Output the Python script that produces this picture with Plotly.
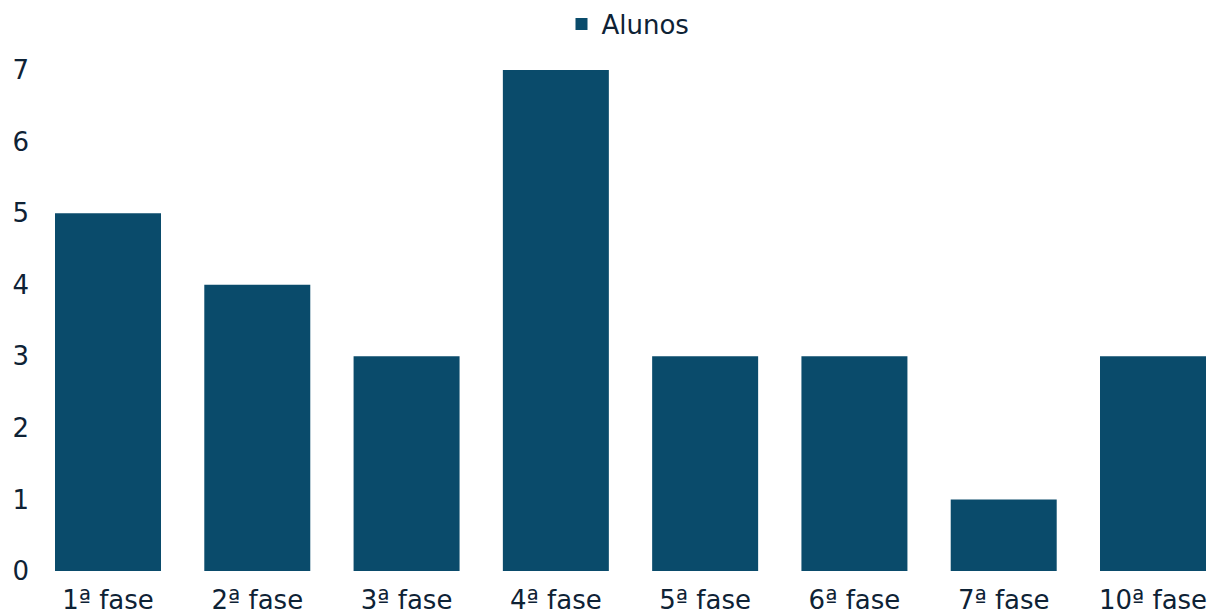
import plotly.graph_objects as go

categories = ["1ª fase", "2ª fase", "3ª fase", "4ª fase", "5ª fase", "6ª fase", "7ª fase", "10ª fase"]
alunos = [5, 4, 3, 7, 3, 3, 1, 3]
y_ticks = [0, 1, 2, 3, 4, 5, 6, 7]

text_color = "#0e2235"
bar_color = "#0a4b6b"
font_family = "'DejaVu Sans', sans-serif"

fig = go.Figure(
    go.Bar(x=list(range(len(categories))), y=alunos, name="Alunos", marker_color=bar_color,
           marker_line_width=0)
)
fig.update_layout(
    width=1216, height=616,
    margin=dict(l=40, r=0, t=70, b=45),
    paper_bgcolor="white", plot_bgcolor="white",
    font=dict(family=font_family, color=text_color, size=26),
    bargap=0.29,
    showlegend=True,
    legend=dict(orientation="h", x=0.5, xanchor="center", y=0.999, yanchor="top",
                yref="container", font=dict(size=26)),
    xaxis=dict(tickmode="array", tickvals=list(range(len(categories))), ticktext=categories,
               range=[-0.4555, 7.422], showgrid=False, zeroline=False, showline=False,
               ticks="", tickfont=dict(size=26), ticklabelstandoff=11),
    yaxis=dict(range=[0, 7], tickvals=y_ticks, showgrid=False, zeroline=False,
               showline=False, ticks="", tickfont=dict(size=26), ticklabelstandoff=10),
)
fig.write_html("out.html")
